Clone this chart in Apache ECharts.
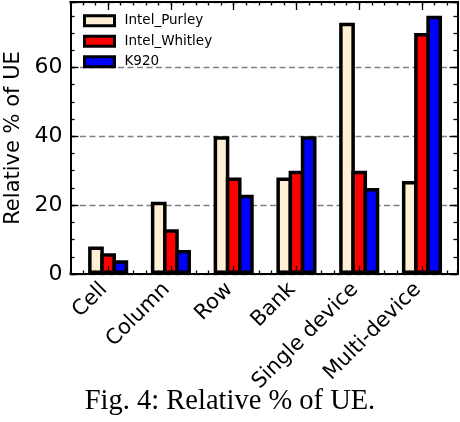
<!DOCTYPE html>
<html>
<head>
<meta charset="utf-8">
<script src="https://cdn.jsdelivr.net/npm/echarts@6/dist/echarts.min.js"></script>
<style>
html,body{margin:0;padding:0;background:#fff;}
#chart{width:460px;height:422px;}
</style>
</head>
<body>
<div id="chart"></div>
<script>
const categories = ['Cell', 'Column', 'Row', 'Bank', 'Single device', 'Multi-device'];
const seriesNames = ['Intel_Purley', 'Intel_Whitley', 'K920'];
const purley = [8, 21, 40, 28, 73, 27];
const whitley = [6, 13, 28, 30, 30, 70];
const k920 = [4, 7, 23, 40, 25, 75];
const yTickLabels = [0, 20, 40, 60];
const caption = 'Fig. 4: Relative % of UE.';

const colors = ['#FFEFD5', '#FF0000', '#0000FF'];
const values = [purley, whitley, k920];
const STEP = 5; // minor ticks per category group
const groupTicks = categories.map(function (c, i) { return i * STEP; });

const chart = echarts.init(document.getElementById('chart'), null, {renderer: 'canvas'});
const FONT = 'DejaVu Sans';
const xMin = -3, xMax = 27.83, yMax = 79;

const xBase = {
  type: 'value', min: xMin, max: xMax, interval: 1, z: 5,
  axisLine: {show: true, onZero: false, lineStyle: {color: '#000', width: 2}},
  axisTick: {show: true, inside: true, length: 3.5, lineStyle: {color: '#000', width: 1.3}},
  axisLabel: {show: false},
  splitLine: {show: false}
};
const xMajor = Object.assign({}, xBase, {
  axisTick: {show: true, inside: true, length: 8, customValues: groupTicks, lineStyle: {color: '#000', width: 1.3}}
});
const yBase = {
  type: 'value', min: 0, max: yMax, interval: 5,
  axisLine: {show: true, onZero: false, lineStyle: {color: '#000', width: 2}},
  axisTick: {show: true, inside: true, length: 4, lineStyle: {color: '#000', width: 1.3}},
  axisLabel: {show: false},
  splitLine: {show: false}
};
const yMajor = Object.assign({}, yBase, {
  interval: 20,
  axisTick: {show: true, inside: true, length: 8, lineStyle: {color: '#000', width: 1.3}}
});

const option = {
  animation: false,
  backgroundColor: '#fff',
  grid: {left: 70.5, right: 2.5, top: 2, bottom: 148, containLabel: false, outerBoundsMode: 'none'},
  xAxis: [
    Object.assign({}, xBase, {
      position: 'bottom',
      axisLabel: {
        show: true, rotate: 45, margin: 8, fontSize: 21, fontFamily: FONT, color: '#000',
        padding: [0, 6, 0, 0],
        formatter: function (v) {
          if (Math.abs(v - Math.round(v)) > 1e-6) return '';
          const r = Math.round(v);
          if (r >= 0 && r % STEP === 0 && r / STEP < categories.length) return categories[r / STEP];
          return '';
        }
      }
    }),
    Object.assign({}, xBase, {position: 'top'}),
    Object.assign({}, xMajor, {position: 'bottom'}),
    Object.assign({}, xMajor, {position: 'top'})
  ],
  yAxis: [
    Object.assign({}, yBase, {position: 'left'}),
    Object.assign({}, yMajor, {
      position: 'left',
      name: 'Relative % of UE', nameLocation: 'middle', nameGap: 46, nameMoveOverlap: false,
      nameTextStyle: {fontSize: 21, fontFamily: FONT, color: '#000'},
      axisLabel: {
        show: true, margin: 8, fontSize: 22, fontFamily: FONT, color: '#000',
        formatter: function (v) { return yTickLabels.indexOf(v) >= 0 ? String(v) : ''; }
      },
      splitLine: {show: true, lineStyle: {color: '#808080', width: 1.3, type: [6, 3.5]}}
    }),
    Object.assign({}, yBase, {position: 'right'}),
    Object.assign({}, yMajor, {position: 'right'})
  ],
  legend: {
    orient: 'vertical', left: 83, top: 13.7, padding: 0,
    itemWidth: 30, itemHeight: 10, itemGap: 6.5,
    icon: 'rect',
    textStyle: {fontSize: 13.5, fontFamily: FONT, color: '#000', lineHeight: 14, padding: [0, 0, 0, 5]},
    itemStyle: {borderColor: '#000', borderWidth: 3},
    data: seriesNames
  },
  series: seriesNames.map(function (name, s) {
    return {
      name: name, type: 'bar', xAxisIndex: 0, yAxisIndex: 0,
      barWidth: 15.7, barGap: '-22.3%',
      itemStyle: {color: colors[s], borderColor: '#000', borderWidth: 3.5},
      data: categories.map(function (c, i) { return [i * STEP, values[s][i]]; })
    };
  }),
  graphic: [{
    type: 'text', left: 'center', top: 387,
    style: {text: caption, font: '28.5px "Liberation Serif", "Times New Roman", serif', fill: '#000'}
  }]
};
chart.setOption(option);
</script>
</body>
</html>
